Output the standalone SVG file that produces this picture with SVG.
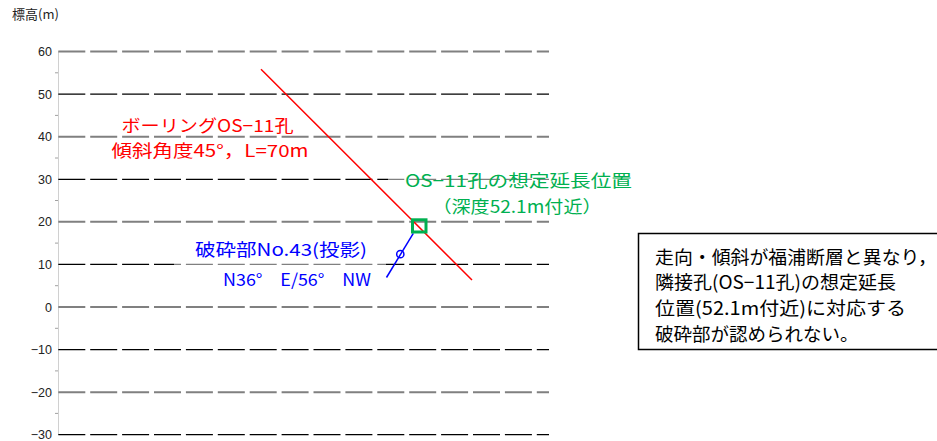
<svg xmlns="http://www.w3.org/2000/svg" width="937" height="441" viewBox="0 0 937 441">
<style>
.gg{stroke:#808080;stroke-width:2;stroke-dasharray:27 4.9;fill:none}
.gb{stroke:#000;stroke-width:1.3;stroke-dasharray:27 4.9;fill:none}
.ax{font-family:"Liberation Sans",Arial,sans-serif;font-size:12.5px;fill:#222;text-anchor:end}
.jp{font-family:"Noto Sans CJK JP","Noto Sans",sans-serif}
.red{fill:#ff0000;font-size:17px}
.grn{fill:#00b050;font-size:17px}
.blu{fill:#0000ff;font-size:17px}
.box{fill:#000;font-size:18.5px}
.ov{fill:#fff;fill-opacity:0.5;stroke:none}
</style>
<rect width="937" height="441" fill="#fff"/>
<g id="axis">
<text class="jp" x="12" y="19" font-size="13" fill="#222">標高(m)</text>
<line x1="58.5" y1="51.5" x2="58.5" y2="435" stroke="#d0d0d0" stroke-width="1"/>
<g stroke="#a0a0a0" stroke-width="1">
<line x1="55" y1="72.8" x2="58" y2="72.8"/><line x1="55" y1="115.4" x2="58" y2="115.4"/>
<line x1="55" y1="158" x2="58" y2="158"/><line x1="55" y1="200.5" x2="58" y2="200.5"/>
<line x1="55" y1="243.1" x2="58" y2="243.1"/><line x1="55" y1="285.7" x2="58" y2="285.7"/>
<line x1="55" y1="328.3" x2="58" y2="328.3"/><line x1="55" y1="370.9" x2="58" y2="370.9"/>
<line x1="55" y1="413.4" x2="58" y2="413.4"/>
</g>
<text class="ax" x="52" y="56">60</text>
<text class="ax" x="52" y="98.6">50</text>
<text class="ax" x="52" y="141.2">40</text>
<text class="ax" x="52" y="183.8">30</text>
<text class="ax" x="52" y="226.3">20</text>
<text class="ax" x="52" y="268.9">10</text>
<text class="ax" x="52" y="311.5">0</text>
<text class="ax" x="52" y="354.1">−10</text>
<text class="ax" x="52" y="396.7">−20</text>
<text class="ax" x="52" y="439.2">−30</text>
</g>
<g id="gridlines">
<line class="gg" x1="58.3" y1="51.5" x2="549" y2="51.5"/>
<line class="gb" x1="58.3" y1="94.1" x2="549" y2="94.1"/>
<line class="gg" x1="58.3" y1="136.7" x2="549" y2="136.7"/>
<line class="gb" x1="58.3" y1="179.3" x2="549" y2="179.3"/>
<line class="gg" x1="58.3" y1="221.8" x2="549" y2="221.8"/>
<line class="gb" x1="58.3" y1="264.4" x2="549" y2="264.4"/>
<line class="gg" x1="58.3" y1="307" x2="549" y2="307"/>
<line class="gb" x1="58.3" y1="349.6" x2="549" y2="349.6"/>
<line class="gg" x1="58.3" y1="392.2" x2="549" y2="392.2"/>
<line class="gb" x1="58.3" y1="434.7" x2="549" y2="434.7"/>
</g>
<g id="label-backgrounds">
<rect class="ov" x="388" y="165" width="252" height="52"/>
<rect class="ov" x="174" y="234" width="212" height="58"/>
</g>
<g id="connectors">
<line id="borehole" x1="261" y1="69.3" x2="472" y2="280" stroke="#ff0000" stroke-width="1.5"/>
<line id="fracture" x1="413.3" y1="233.3" x2="386.5" y2="277.5" stroke="#0000ff" stroke-width="1.5"/>
</g>
<g id="fracture-point">
<circle cx="400.3" cy="254.2" r="3.6" fill="none" stroke="#0000ff" stroke-width="1.5"/>
</g>
<g id="extension-point">
<rect x="412.5" y="219.8" width="13.5" height="12.2" fill="none" stroke="#00b050" stroke-width="3"/>
</g>
<g id="borehole-label">
<text class="jp red" x="121.5" y="131.5" textLength="172" lengthAdjust="spacingAndGlyphs">ボーリングOS−11孔</text>
<text class="jp red" x="111.5" y="156.5" textLength="197" lengthAdjust="spacingAndGlyphs">傾斜角度45°，L=70m</text>
</g>
<g id="extension-label">
<text class="jp grn" x="405" y="186.5" textLength="227" lengthAdjust="spacingAndGlyphs">OS−11孔の想定延長位置</text>
<text class="jp grn" x="432.5" y="213" textLength="169" lengthAdjust="spacingAndGlyphs">（深度52.1m付近）</text>
</g>
<g id="fracture-label">
<text class="jp blu" x="195" y="256" textLength="172" lengthAdjust="spacingAndGlyphs">破砕部No.43(投影)</text>
<text class="jp blu" x="223" y="285.5" textLength="148" lengthAdjust="spacingAndGlyphs">N36°　E/56°　NW</text>
</g>
<g id="note-box">
<rect x="638.5" y="233.5" width="310" height="116" fill="#fff" stroke="#000" stroke-width="1.5"/>
<text class="jp box" x="655" y="263.5" textLength="282" lengthAdjust="spacingAndGlyphs">走向・傾斜が福浦断層と異なり，</text>
<text class="jp box" x="655" y="289.3" textLength="241" lengthAdjust="spacingAndGlyphs">隣接孔(OS−11孔)の想定延長</text>
<text class="jp box" x="655" y="315" textLength="251" lengthAdjust="spacingAndGlyphs">位置(52.1m付近)に対応する</text>
<text class="jp box" x="655" y="340.5">破砕部が認められない。</text>
</g>
</svg>
